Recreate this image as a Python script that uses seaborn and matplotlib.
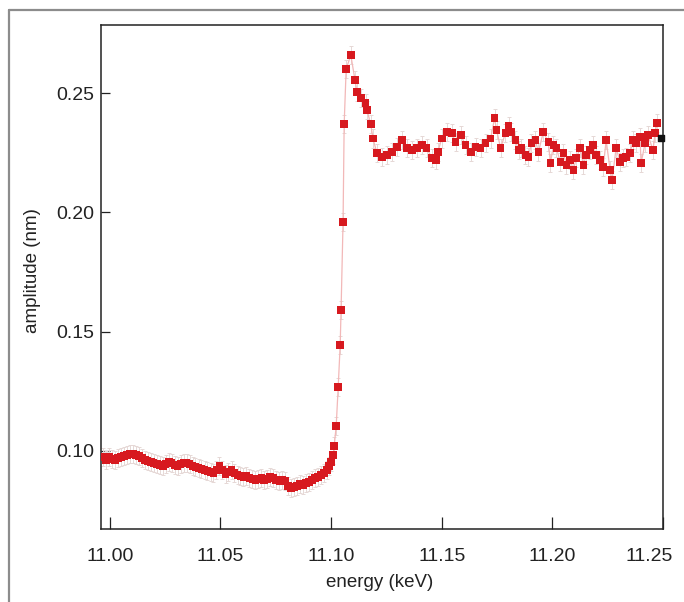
import matplotlib
matplotlib.use("Agg")
import matplotlib.pyplot as plt
from matplotlib.lines import Line2D
from matplotlib.transforms import ScaledTranslation
import seaborn as sns
import pandas as pd
import numpy as np

# ---------------- data ----------------
energy_kev = [
    10.9968, 10.9982, 10.9995, 11.0009, 11.0023, 11.0036, 11.0050, 11.0063, 11.0077, 11.0090,
    11.0104, 11.0117, 11.0131, 11.0144, 11.0158, 11.0171, 11.0185, 11.0198, 11.0212, 11.0225,
    11.0239, 11.0252, 11.0266, 11.0279, 11.0293, 11.0306, 11.0320, 11.0333, 11.0347, 11.0360,
    11.0374, 11.0387, 11.0401, 11.0414, 11.0428, 11.0441, 11.0455, 11.0468, 11.0482, 11.0495,
    11.0509, 11.0523, 11.0536, 11.0550, 11.0563, 11.0577, 11.0590, 11.0604, 11.0617, 11.0631,
    11.0644, 11.0658, 11.0671, 11.0685, 11.0698, 11.0712, 11.0725, 11.0739, 11.0752, 11.0766,
    11.0779, 11.0793, 11.0806, 11.0820, 11.0833, 11.0847, 11.0860, 11.0874, 11.0887, 11.0901,
    11.0914, 11.0928, 11.0941, 11.0955, 11.0968, 11.0982, 11.0991, 11.1000, 11.1009, 11.1014,
    11.1023, 11.1032, 11.1041, 11.1045, 11.1054, 11.1059, 11.1068, 11.1089, 11.1108, 11.1117,
    11.1134, 11.1156, 11.1162, 11.1179, 11.1189, 11.1207, 11.1230, 11.1252, 11.1275, 11.1297,
    11.1320, 11.1342, 11.1365, 11.1387, 11.1410, 11.1432, 11.1455, 11.1473, 11.1482, 11.1500,
    11.1523, 11.1545, 11.1563, 11.1586, 11.1608, 11.1631, 11.1653, 11.1676, 11.1698, 11.1721,
    11.1739, 11.1748, 11.1766, 11.1788, 11.1802, 11.1815, 11.1833, 11.1847, 11.1860, 11.1878,
    11.1892, 11.1905, 11.1923, 11.1937, 11.1959, 11.1982, 11.1991, 11.2005, 11.2018, 11.2036,
    11.2050, 11.2063, 11.2081, 11.2095, 11.2108, 11.2126, 11.2140, 11.2153, 11.2171, 11.2185,
    11.2198, 11.2216, 11.2230, 11.2243, 11.2261, 11.2270, 11.2288, 11.2306, 11.2320, 11.2333,
    11.2351, 11.2365, 11.2378, 11.2396, 11.2401, 11.2419, 11.2432, 11.2455, 11.2464, 11.2473,
]
amplitude_nm = [
    0.0975, 0.0962, 0.0975, 0.0966, 0.0962, 0.0971, 0.0975, 0.0979, 0.0983, 0.0987,
    0.0987, 0.0983, 0.0979, 0.0971, 0.0962, 0.0958, 0.0954, 0.0950, 0.0946, 0.0941,
    0.0937, 0.0946, 0.0954, 0.0950, 0.0941, 0.0937, 0.0946, 0.0950, 0.0950, 0.0946,
    0.0937, 0.0933, 0.0929, 0.0925, 0.0920, 0.0916, 0.0912, 0.0908, 0.0920, 0.0937,
    0.0920, 0.0904, 0.0912, 0.0920, 0.0908, 0.0899, 0.0895, 0.0891, 0.0895, 0.0887,
    0.0883, 0.0878, 0.0883, 0.0887, 0.0878, 0.0883, 0.0891, 0.0887, 0.0878, 0.0874,
    0.0878, 0.0874, 0.0853, 0.0845, 0.0849, 0.0853, 0.0862, 0.0858, 0.0866, 0.0870,
    0.0878, 0.0887, 0.0891, 0.0899, 0.0908, 0.0920, 0.0937, 0.0954, 0.0983, 0.1021,
    0.1105, 0.1268, 0.1444, 0.1591, 0.1960, 0.2370, 0.2601, 0.2660, 0.2555, 0.2505,
    0.2480, 0.2460, 0.2430, 0.2370, 0.2310, 0.2249, 0.2232, 0.2240, 0.2253, 0.2274,
    0.2303, 0.2270, 0.2262, 0.2270, 0.2282, 0.2270, 0.2228, 0.2220, 0.2253, 0.2310,
    0.2337, 0.2333, 0.2295, 0.2324, 0.2282, 0.2253, 0.2274, 0.2270, 0.2290, 0.2310,
    0.2396, 0.2345, 0.2270, 0.2333, 0.2362, 0.2337, 0.2303, 0.2262, 0.2270, 0.2240,
    0.2232, 0.2290, 0.2303, 0.2253, 0.2337, 0.2295, 0.2207, 0.2282, 0.2270, 0.2211,
    0.2249, 0.2199, 0.2220, 0.2178, 0.2228, 0.2270, 0.2199, 0.2240, 0.2262, 0.2282,
    0.2240, 0.2220, 0.2190, 0.2303, 0.2178, 0.2136, 0.2270, 0.2211, 0.2228, 0.2232,
    0.2249, 0.2303, 0.2290, 0.2316, 0.2207, 0.2290, 0.2324, 0.2262, 0.2333, 0.2375,
]
amplitude_err = 0.0038

edge_point_energy = [11.249]
edge_point_amplitude = [0.2311]

x_ticks = [11.00, 11.05, 11.10, 11.15, 11.20, 11.25]
x_tick_labels = ["11.00", "11.05", "11.10", "11.15", "11.20", "11.25"]
y_ticks = [0.10, 0.15, 0.20, 0.25]
y_tick_labels = ["0.10", "0.15", "0.20", "0.25"]

df = pd.DataFrame({"energy": energy_kev, "amplitude": amplitude_nm})

# ---------------- figure ----------------
sns.set_theme(style="white")
plt.rcParams["font.family"] = ["Liberation Sans", "DejaVu Sans"]

fig = plt.figure(figsize=(6.84, 6.02), dpi=100)
ax = fig.add_axes([101 / 684, 1 - 529 / 602, (663 - 101) / 684, (529 - 24.5) / 602])

# outer frame (top and left lines)
fig.add_artist(Line2D([9 / 684, 1.0], [1 - 10 / 602, 1 - 10 / 602], color="#8c8c8c", lw=1.6,
                      transform=fig.transFigure))
fig.add_artist(Line2D([9 / 684, 9 / 684], [0.0, 1 - 10 / 602], color="#8c8c8c", lw=1.6,
                      transform=fig.transFigure))

ax.errorbar(df["energy"], df["amplitude"], yerr=amplitude_err, fmt="none",
            ecolor="#e6d8d6", elinewidth=0.7, capsize=1.5, capthick=0.7, zorder=1)
sns.lineplot(data=df, x="energy", y="amplitude", ax=ax, color="#f2b8b8", lw=0.9,
             sort=False, zorder=2, estimator=None)
sns.scatterplot(data=df, x="energy", y="amplitude", ax=ax, marker="s", s=30,
                color="#d7191f", edgecolor="none", linewidth=0, zorder=3)
ax.scatter(edge_point_energy, edge_point_amplitude, marker="s", s=14, color="#111111",
           zorder=4, clip_on=False)

ax.set_xlim(10.996, 11.2491)
ax.set_ylim(0.0673, 0.2788)
ax.set_xticks(x_ticks)
ax.set_xticklabels(x_tick_labels)
ax.set_yticks(y_ticks)
ax.set_yticklabels(y_tick_labels)

for s in ["top", "right", "bottom", "left"]:
    ax.spines[s].set_visible(True)
    ax.spines[s].set_color("#222222")
    ax.spines[s].set_linewidth(1.1)

ax.tick_params(axis="x", direction="in", length=8.5, width=0.9, color="#222222",
               labelsize=14, labelcolor="#222222", pad=14, bottom=True, top=False)
ax.tick_params(axis="y", direction="in", length=6.5, width=0.9, color="#222222",
               labelsize=14, labelcolor="#222222", pad=5, left=True, right=False)

# last x label sits left of its tick so it stays inside the figure
last = ax.get_xticklabels()[-1]
last.set_horizontalalignment("right")
last.set_transform(last.get_transform() + ScaledTranslation(10 / 100, 0, fig.dpi_scale_trans))

ax.set_xlabel("energy (keV)", fontsize=13.5, color="#222222")
ax.set_ylabel("amplitude (nm)", fontsize=13.5, color="#222222")
ax.xaxis.set_label_coords(0.496, -0.107)
ax.yaxis.set_label_coords(-0.121, 0.513)
ax.xaxis.label.set_va("center")
ax.yaxis.label.set_va("center")

fig.savefig("out.png", dpi=100)
